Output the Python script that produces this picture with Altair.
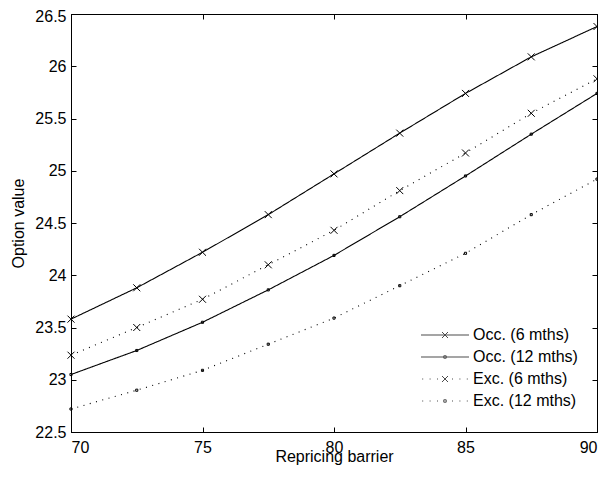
import altair as alt
import pandas as pd

barrier = [70, 72.5, 75, 77.5, 80, 82.5, 85, 87.5, 90]
occ6 = [23.58, 23.88, 24.22, 24.58, 24.97, 25.36, 25.74, 26.09, 26.38]
occ12 = [23.05, 23.28, 23.55, 23.86, 24.19, 24.56, 24.95, 25.35, 25.74]
exc6 = [23.235, 23.50, 23.77, 24.10, 24.43, 24.81, 25.17, 25.55, 25.88]
exc12 = [22.72, 22.90, 23.09, 23.34, 23.59, 23.90, 24.21, 24.58, 24.92]
series_names = ["Occ. (6 mths)", "Occ. (12 mths)", "Exc. (6 mths)", "Exc. (12 mths)"]
x_ticks = [70, 75, 80, 85, 90]
y_ticks = [22.5, 23, 23.5, 24, 24.5, 25, 25.5, 26, 26.5]

rows = []
for name, vals in zip(series_names, [occ6, occ12, exc6, exc12]):
    for b, v in zip(barrier, vals):
        rows.append({"barrier": b, "value": v, "series": name})
df = pd.DataFrame(rows)

FONT = "Liberation Sans"
FS = 16
INWARD = alt.ExprRef("-5")

# marker shapes
CROSS = "M-1,-1L1,1M-1,1L1,-1"
DOT = "M-0.3,-0.3h0.6v0.6h-0.6z"
dash_range = [[1, 0], [1, 0], [1, 5.5], [1, 5.5]]

# legend symbols: line + marker
solid = "M-6,0H6"
dotted = "".join(f"M{p:.2f},0h0.25" for p in [-5.7, -3.85, -2.0, 1.75, 3.6, 5.45])
LX = "M-0.75,-0.75L0.75,0.75M-0.75,0.75L0.75,-0.75"
LD = "M-0.3,-0.3h0.6v0.6h-0.6z"
legend_paths = [solid + LX, solid + LD, dotted + LX, dotted + LD]

xscale = alt.Scale(domain=[70, 90], nice=False, zero=False)
yscale = alt.Scale(domain=[22.5, 26.5], nice=False, zero=False)

base = alt.Chart(df)

lines = base.mark_line(color="black", strokeWidth=1.1).encode(
    x=alt.X("barrier:Q", scale=xscale,
            axis=alt.Axis(values=x_ticks, title="Repricing barrier", grid=False,
                          tickSize=INWARD, labelPadding=12, titlePadding=-7)),
    y=alt.Y("value:Q", scale=yscale,
            axis=alt.Axis(values=y_ticks[:-1], title="Option value", grid=False, format="~g",
                          tickSize=INWARD, labelPadding=10, titlePadding=8)),
    detail="series:N",
    strokeDash=alt.StrokeDash("series:N", scale=alt.Scale(domain=series_names, range=dash_range), legend=None),
)

points = base.mark_point(filled=False, color="black", strokeWidth=1, size=49, opacity=1).encode(
    x=alt.X("barrier:Q", scale=xscale, axis=None),
    y=alt.Y("value:Q", scale=yscale, axis=None),
    shape=alt.Shape("series:N", scale=alt.Scale(domain=series_names, range=[CROSS, DOT, CROSS, DOT]), legend=None),
)

frame = base.mark_point(opacity=0).encode(
    x=alt.X("barrier:Q", scale=xscale,
            axis=alt.Axis(orient="top", values=x_ticks, labels=False, title=None, grid=False,
                          tickSize=INWARD)),
    y=alt.Y("value:Q", scale=yscale,
            axis=alt.Axis(orient="right", values=y_ticks, labels=False, title=None, grid=False,
                          tickSize=INWARD)),
)

top_label = base.mark_point(opacity=0).encode(
    x=alt.X("barrier:Q", scale=xscale, axis=None),
    y=alt.Y("value:Q", scale=yscale,
            axis=alt.Axis(orient="left", values=y_ticks[-1:], title=None, grid=False,
                          labelExpr="format(datum.value, '~g')",
                          domain=False, tickSize=INWARD, labelPadding=10, labelOffset=2.5)),
)

legend_layer = base.transform_filter("datum.barrier < 0").mark_point(
    filled=False, color="black", strokeWidth=1, size=64
).encode(
    x=alt.X("barrier:Q", scale=xscale, axis=None),
    y=alt.Y("value:Q", scale=yscale, axis=None),
    shape=alt.Shape("series:N", scale=alt.Scale(domain=series_names, range=legend_paths),
                    legend=alt.Legend(title=None, orient="none", legendX=366, legendY=313,
                                      symbolSize=64, symbolStrokeWidth=1, symbolStrokeColor="black",
                                      symbolFillColor="transparent", labelOffset=20,
                                      labelFontSize=FS, labelFont=FONT, labelColor="black",
                                      rowPadding=6, padding=0, symbolLimit=0)),
)

chart = alt.layer(lines, points, frame, top_label, legend_layer).resolve_scale(
    shape="independent"
).resolve_axis(
    x="independent", y="independent"
).properties(
    width=526, height=418,
    autosize=alt.AutoSizeParams(type="none"),
    padding={"left": 63, "top": 6, "right": 1, "bottom": 33},
    background="white",
).configure_view(
    stroke="black", strokeWidth=1
).configure_axis(
    domainColor="black", tickColor="black", labelColor="black", titleColor="black",
    labelFont=FONT, titleFont=FONT, labelFontSize=FS, titleFontSize=FS,
    titleFontWeight="normal", domainWidth=1, tickWidth=1,
)

chart.save("out.html", embed_options={"renderer": "svg", "actions": False})
